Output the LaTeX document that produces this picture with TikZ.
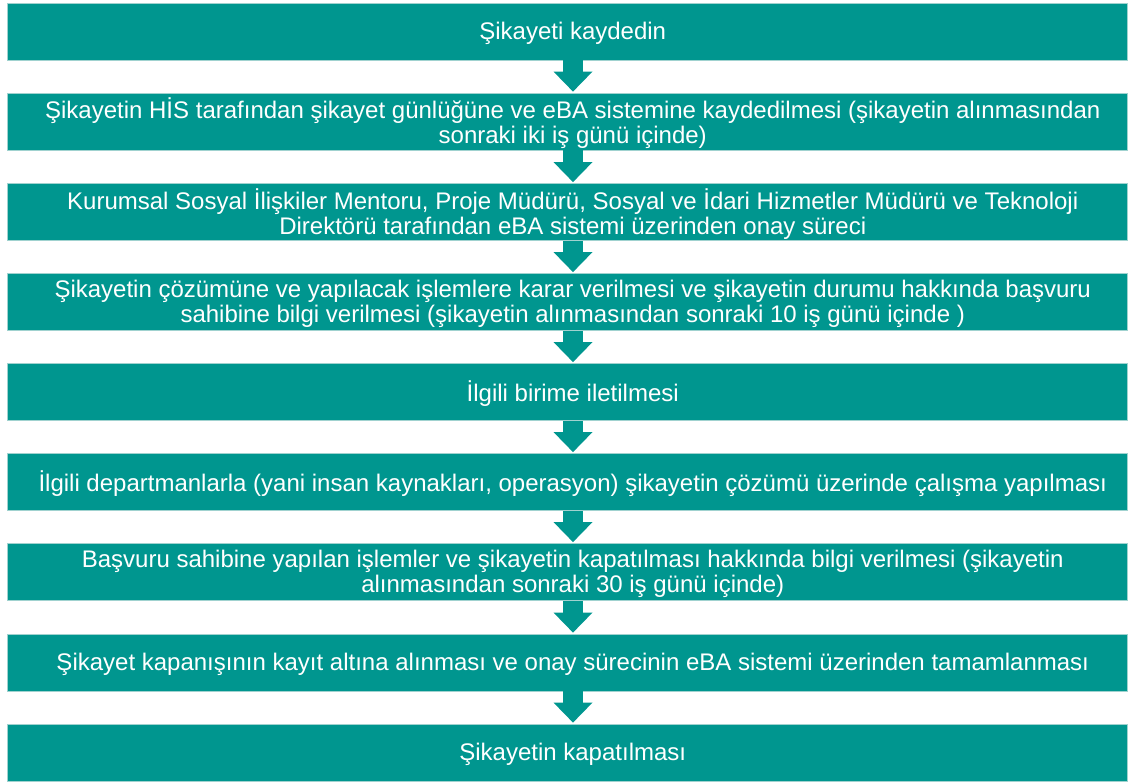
\documentclass[tikz,border=0pt]{standalone}
\usepackage{fontspec}
\setmainfont{Liberation Sans}
\usetikzlibrary{arrows.meta}
\definecolor{tealbox}{RGB}{0,150,143}
\definecolor{tealedge}{RGB}{160,210,207}
\newcommand{\steptext}[1]{\hspace*{11pt}\raisebox{-3pt}[\height][\depth]{\begin{tabular}{@{}c@{}}#1\end{tabular}}}
\begin{document}
\begin{tikzpicture}[x=1pt,y=-1pt,
  stepbox/.style={fill=tealbox,draw=tealedge,line width=0.8pt,minimum width=1119.5pt,minimum height=57pt,
    text=white,inner sep=0pt,font=\fontsize{24}{25}\selectfont},
  flow/.style={draw=tealbox,line width=20pt,line cap=butt,shorten >=1pt,
    -{Triangle[width=39pt,length=20pt,line width=0pt]}}]
\useasboundingbox (0,0) rectangle (1128,782);
\node[stepbox] (b1) at (567.25,31.5) {\steptext{Şikayeti kaydedin}};
\node[stepbox] (b2) at (567.25,121.5) {\steptext{Şikayetin HİS tarafından şikayet günlüğüne ve eBA sistemine kaydedilmesi (şikayetin alınmasından\\sonraki iki iş günü içinde)}};
\node[stepbox] (b3) at (567.25,212) {\steptext{Kurumsal Sosyal İlişkiler Mentoru, Proje Müdürü, Sosyal ve İdari Hizmetler Müdürü ve Teknoloji\\Direktörü tarafından eBA sistemi üzerinden onay süreci}};
\node[stepbox] (b4) at (567.25,302) {\steptext{Şikayetin çözümüne ve yapılacak işlemlere karar verilmesi ve şikayetin durumu hakkında başvuru\\sahibine bilgi verilmesi (şikayetin alınmasından sonraki 10 iş günü içinde )}};
\node[stepbox] (b5) at (567.25,392) {\steptext{İlgili birime iletilmesi}};
\node[stepbox] (b6) at (567.25,482) {\steptext{İlgili departmanlarla (yani insan kaynakları, operasyon) şikayetin çözümü üzerinde çalışma yapılması}};
\node[stepbox] (b7) at (567.25,572) {\steptext{Başvuru sahibine yapılan işlemler ve şikayetin kapatılması hakkında bilgi verilmesi (şikayetin\\alınmasından sonraki 30 iş günü içinde)}};
\node[stepbox] (b8) at (567.25,662.5) {\steptext{Şikayet kapanışının kayıt altına alınması ve onay sürecinin eBA sistemi üzerinden tamamlanması}};
\node[stepbox] (b9) at (567.25,752.5) {\steptext{Şikayetin kapatılması}};
\foreach \a/\b in {b1/b2,b2/b3,b3/b4,b4/b5,b5/b6,b6/b7,b7/b8,b8/b9}
  \draw[flow] ([xshift=5.75pt]\a.south) -- ([xshift=5.75pt]\b.north);
\end{tikzpicture}
\end{document}
